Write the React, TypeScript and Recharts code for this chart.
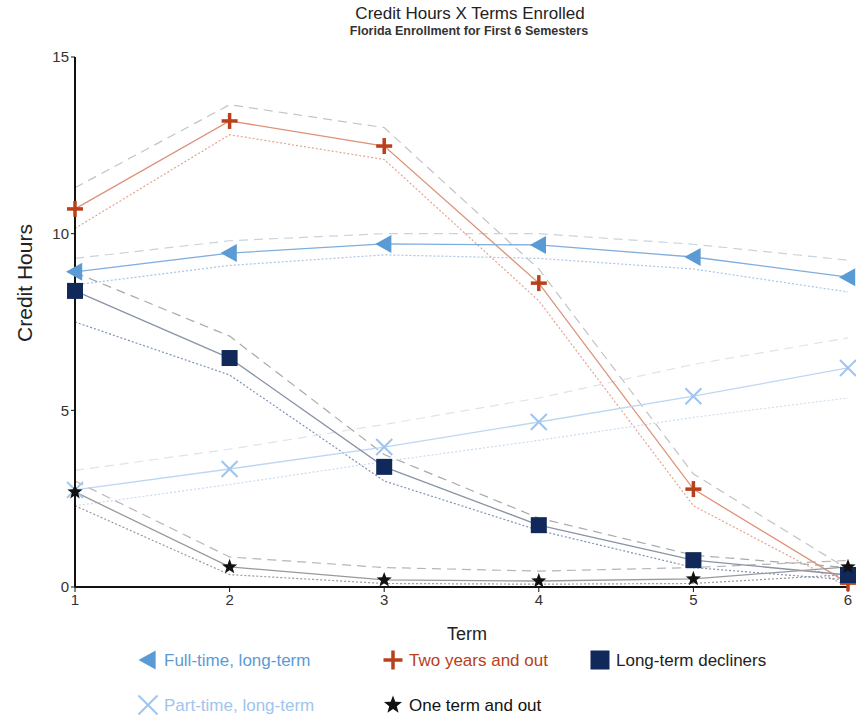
import { CartesianGrid, Line, LineChart, XAxis, YAxis } from 'recharts'

const terms = [1, 2, 3, 4, 5, 6]
const yTicks = [0, 5, 10, 15]

// Full-time, long-term
const fullMean = [8.92, 9.45, 9.71, 9.68, 9.34, 8.77]
const fullHi = [9.3, 9.8, 10.0, 10.0, 9.7, 9.25]
const fullLo = [8.55, 9.1, 9.4, 9.3, 9.0, 8.35]
// Two years and out
const twoMean = [10.7, 13.19, 12.48, 8.6, 2.77, 0.11]
const twoHi = [11.3, 13.65, 13.0, 9.0, 3.2, 0.5]
const twoLo = [10.15, 12.8, 12.1, 8.1, 2.3, 0.0]
// Long-term decliners
const decMean = [8.38, 6.48, 3.4, 1.75, 0.76, 0.34]
const decHi = [8.9, 7.1, 3.75, 1.95, 0.9, 0.55]
const decLo = [7.5, 6.0, 3.0, 1.6, 0.55, 0.2]
// Part-time, long-term
const partMean = [2.75, 3.34, 3.96, 4.67, 5.4, 6.2]
const partHi = [3.3, 3.9, 4.6, 5.35, 6.3, 7.05]
const partLo = [2.3, 2.9, 3.55, 4.15, 4.8, 5.35]
// One term and out
const oneMean = [2.69, 0.57, 0.2, 0.17, 0.23, 0.57]
const oneHi = [3.0, 0.85, 0.55, 0.45, 0.55, 0.75]
const oneLo = [2.3, 0.35, 0.1, 0.08, 0.1, 0.35]

const data = terms.map((t, i) => ({
  term: t,
  fullMean: fullMean[i], fullHi: fullHi[i], fullLo: fullLo[i],
  twoMean: twoMean[i], twoHi: twoHi[i], twoLo: twoLo[i],
  decMean: decMean[i], decHi: decHi[i], decLo: decLo[i],
  partMean: partMean[i], partHi: partHi[i], partLo: partLo[i],
  oneMean: oneMean[i], oneHi: oneHi[i], oneLo: oneLo[i],
}))

const C = {
  full: '#5b9bd5',
  two: '#b8401a',
  dec: '#10295a',
  part: '#9fc5ec',
  one: '#111111',
}

const FONT = '"Liberation Sans", Arial, sans-serif'

function Triangle({ cx, cy, size = 9 }: any) {
  return <path d={`M${cx - size},${cy} L${cx + size * 0.8},${cy - size} L${cx + size * 0.8},${cy + size} Z`} fill={C.full} />
}
function Plus({ cx, cy, size = 8 }: any) {
  return (
    <g stroke={C.two} strokeWidth={3.5}>
      <line x1={cx - size} y1={cy} x2={cx + size} y2={cy} />
      <line x1={cx} y1={cy - size} x2={cx} y2={cy + size} />
    </g>
  )
}
function Square({ cx, cy, size = 8 }: any) {
  return <rect x={cx - size} y={cy - size} width={size * 2} height={size * 2} fill={C.dec} />
}
function Cross({ cx, cy, size = 8 }: any) {
  return (
    <g stroke={C.part} strokeWidth={2}>
      <line x1={cx - size} y1={cy - size} x2={cx + size} y2={cy + size} />
      <line x1={cx - size} y1={cy + size} x2={cx + size} y2={cy - size} />
    </g>
  )
}
function Star({ cx, cy, size = 8 }: any) {
  const pts: string[] = []
  for (let k = 0; k < 10; k++) {
    const r = k % 2 === 0 ? size : size * 0.42
    const a = -Math.PI / 2 + (k * Math.PI) / 5
    pts.push(`${cx + r * Math.cos(a)},${cy + r * Math.sin(a)}`)
  }
  return <polygon points={pts.join(' ')} fill={C.one} />
}

const dotFn = (Shape: any) => (p: any) => <Shape key={`${p.dataKey}-${p.index}`} cx={p.cx} cy={p.cy} />

function Icon({ Shape }: any) {
  return (
    <svg width={24} height={24} style={{ verticalAlign: 'middle', marginRight: 3, marginTop: -3 }}>
      <Shape cx={11} cy={12} size={9.5} />
    </svg>
  )
}

const legendRow1 = [
  { label: 'Full-time, long-term', color: C.full, Shape: Triangle, left: 137 },
  { label: 'Two years and out', color: C.two, Shape: Plus, left: 382 },
  { label: 'Long-term decliners', color: '#222', Shape: Square, left: 589 },
]
const legendRow2 = [
  { label: 'Part-time, long-term', color: C.part, Shape: Cross, left: 137 },
  { label: 'One term and out', color: '#111', Shape: Star, left: 382 },
]

function band(key: string, lo: string, hi: string, loColor: string, hiColor: string) {
  return [
    <Line key={`${key}hi`} dataKey={hi} stroke={hiColor} strokeWidth={1.2} strokeDasharray="9 6" dot={false} activeDot={false} isAnimationActive={false} />,
    <Line key={`${key}lo`} dataKey={lo} stroke={loColor} strokeWidth={1.2} strokeDasharray="2 2" dot={false} activeDot={false} isAnimationActive={false} />,
  ]
}

export default function App() {
  return (
    <div style={{ position: 'absolute', left: 0, top: 0, width: 856, height: 724, background: '#fff', fontFamily: FONT }}>
      <div style={{ position: 'absolute', left: 0, width: 940, top: 4, textAlign: 'center', fontSize: 17, color: '#222' }}>
        Credit Hours X Terms Enrolled
      </div>
      <div style={{ position: 'absolute', left: 0, width: 938, top: 24, textAlign: 'center', fontSize: 12.5, fontWeight: 'bold', color: '#333' }}>
        Florida Enrollment for First 6 Semesters
      </div>
      <LineChart width={856} height={724} data={data} margin={{ top: 57, right: 8, bottom: 107, left: 15 }}>
        <CartesianGrid stroke="none" />
        <XAxis
          type="number"
          dataKey="term"
          domain={[1, 6]}
          ticks={terms}
          height={30}
          tickSize={5}
          tick={{ fontSize: 15, fill: '#333', fontFamily: FONT }}
          axisLine={{ stroke: '#111', strokeWidth: 2 }}
          tickLine={{ stroke: '#111' }}
        />
        <YAxis
          type="number"
          domain={[0, 15]}
          ticks={yTicks}
          width={60}
          tickSize={4}
          tick={{ fontSize: 15, fill: '#333', fontFamily: FONT }}
          axisLine={{ stroke: '#111', strokeWidth: 2 }}
          tickLine={{ stroke: '#111' }}
        />
        {band('two', 'twoLo', 'twoHi', '#e6a48e', '#c4c4c4')}
        {band('full', 'fullLo', 'fullHi', '#a9c6e6', '#c9d3de')}
        {band('dec', 'decLo', 'decHi', '#7f93b3', '#a8a8a8')}
        {band('part', 'partLo', 'partHi', '#c7dcf1', '#dde4ea')}
        {band('one', 'oneLo', 'oneHi', '#9a9a9a', '#b6b6b6')}
        <Line dataKey="twoMean" stroke="#dd9278" strokeWidth={1.3} dot={dotFn(Plus)} activeDot={false} isAnimationActive={false} />
        <Line dataKey="fullMean" stroke="#7fadde" strokeWidth={1.3} dot={dotFn(Triangle)} activeDot={false} isAnimationActive={false} />
        <Line dataKey="partMean" stroke="#bcd7f3" strokeWidth={1.3} dot={dotFn(Cross)} activeDot={false} isAnimationActive={false} />
        <Line dataKey="decMean" stroke="#8894a6" strokeWidth={1.3} dot={dotFn(Square)} activeDot={false} isAnimationActive={false} />
        <Line dataKey="oneMean" stroke="#999" strokeWidth={1.3} dot={dotFn(Star)} activeDot={false} isAnimationActive={false} />
      </LineChart>
      <div style={{ position: 'absolute', left: 25, top: 283, transform: 'translate(-50%,-50%) rotate(-90deg)', fontSize: 21, color: '#222', whiteSpace: 'nowrap' }}>
        Credit Hours
      </div>
      <div style={{ position: 'absolute', left: 0, width: 934, top: 624, textAlign: 'center', fontSize: 18, color: '#222' }}>Term</div>
      {[legendRow1, legendRow2].map((row, r) =>
        row.map((it) => (
          <div key={it.label} style={{ position: 'absolute', left: it.left, top: r === 0 ? 651 : 696, fontSize: 17, color: it.color, whiteSpace: 'nowrap' }}>
            <Icon Shape={it.Shape} />
            {it.label}
          </div>
        )),
      )}
    </div>
  )
}
